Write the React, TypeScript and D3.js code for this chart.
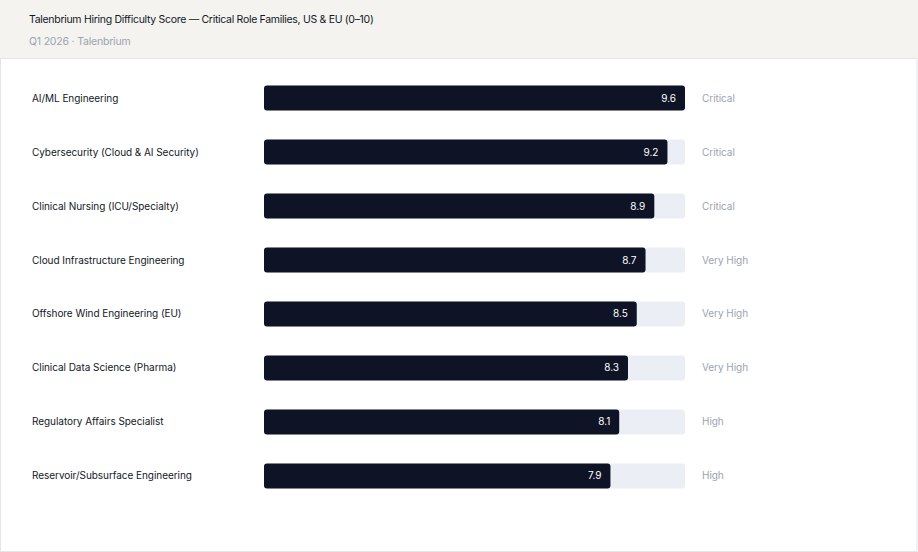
import React from "react";
import * as d3 from "d3";

const categories = [
  "AI/ML Engineering",
  "Cybersecurity (Cloud & AI Security)",
  "Clinical Nursing (ICU/Specialty)",
  "Cloud Infrastructure Engineering",
  "Offshore Wind Engineering (EU)",
  "Clinical Data Science (Pharma)",
  "Regulatory Affairs Specialist",
  "Reservoir/Subsurface Engineering",
];
const scores = [9.6, 9.2, 8.9, 8.7, 8.5, 8.3, 8.1, 7.9];
const tiers = ["Critical", "Critical", "Critical", "Very High", "Very High", "Very High", "High", "High"];

const title = "Talenbrium Hiring Difficulty Score — Critical Role Families, US & EU (0–10)";
const subtitle = "Q1 2026 · Talenbrium";

const W = 918;
const H = 552;

export default function App() {
  const font = "Inter, 'Noto Sans', sans-serif";
  const x = d3.scaleLinear().domain([0, d3.max(scores) as number]).range([264, 685]);
  const y = d3.scaleBand<string>().domain(categories).range([71, 503]).paddingInner(0.537).paddingOuter(0.27);
  const bh = y.bandwidth();
  return (
    <div style={{ position: "fixed", left: 0, top: 0 }}>
      <svg width={W} height={H} style={{ display: "block" }}>
        <rect x={0} y={0} width={W} height={H} fill="#ffffff" />
        <rect x={0} y={0} width={W} height={58} fill="#f4f3ef" />
        <rect x={0.5} y={58.5} width={W - 1.5} height={H - 59} fill="#ffffff" stroke="#e4e5e9" strokeWidth={1} />
        <text x={29} y={23} fontFamily={font} fontSize={10.5} letterSpacing={-0.3} fill="#111827">{title}</text>
        <text x={29} y={45} fontFamily={font} fontSize={10.5} letterSpacing={-0.2} fill="#9ca3af">{subtitle}</text>
        {categories.map((c, i) => {
          const yy = y(c) as number;
          const cy = yy + bh / 2;
          return (
            <g key={c}>
              <text x={32} y={cy} dy="0.35em" fontFamily={font} fontSize={10} letterSpacing={-0.05} fill="#111827">{c}</text>
              <rect x={x(0)} y={yy} width={x.range()[1] - x(0)} height={bh} rx={3} fill="#ebeef5" />
              <rect x={x(0)} y={yy} width={x(scores[i]) - x(0)} height={bh} rx={3} fill="#0e1425" />
              <text x={x(scores[i]) - 9} y={cy} dy="0.35em" textAnchor="end" fontFamily={font} fontSize={10} fill="#ffffff">{scores[i].toFixed(1)}</text>
              <text x={702} y={cy} dy="0.35em" fontFamily={font} fontSize={10} letterSpacing={-0.05} fill="#9ca3af">{tiers[i]}</text>
            </g>
          );
        })}
      </svg>
    </div>
  );
}
